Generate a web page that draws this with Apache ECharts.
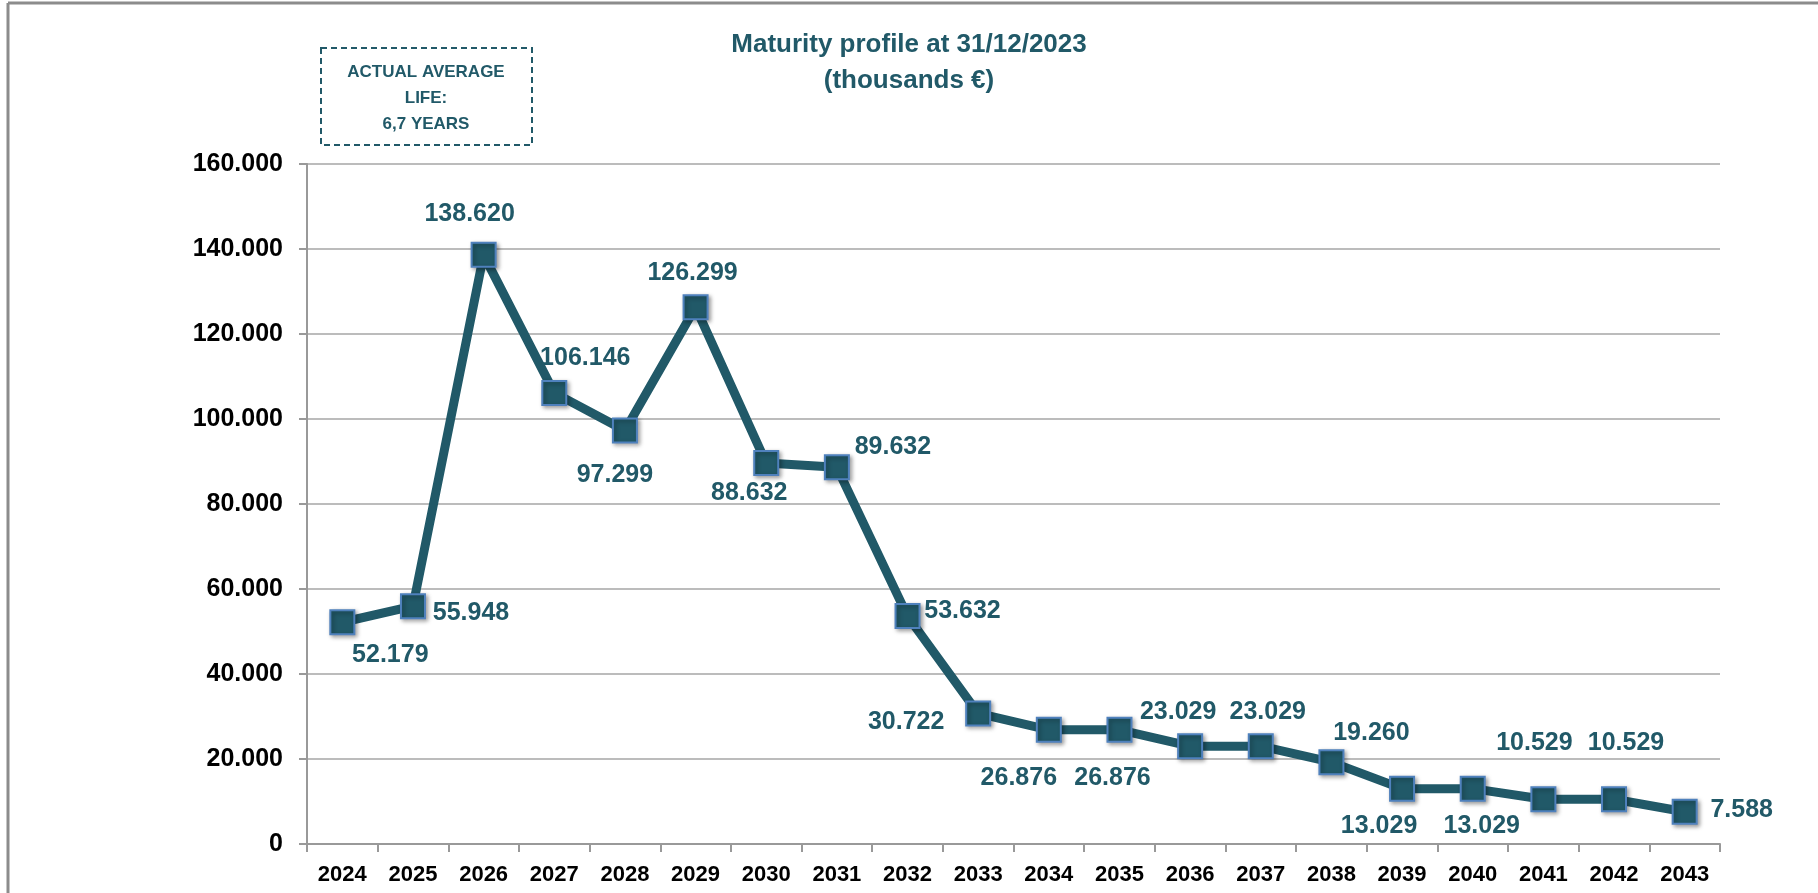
<!DOCTYPE html>
<html>
<head>
<meta charset="utf-8">
<script src="https://cdn.jsdelivr.net/npm/echarts@6/dist/echarts.min.js"></script>
<style>
html,body{margin:0;padding:0;background:#fff;}
#main{width:1818px;height:893px;}
</style>
</head>
<body>
<div id="main"></div>
<script>
// ---- data ----
const years = ['2024','2025','2026','2027','2028','2029','2030','2031','2032','2033','2034','2035','2036','2037','2038','2039','2040','2041','2042','2043'];
const maturities = [52179, 55948, 138620, 106146, 97299, 126299, 89632, 88632, 53632, 30722, 26876, 26876, 23029, 23029, 19260, 13029, 13029, 10529, 10529, 7588];
const labelTexts = ['52.179','55.948','138.620','106.146','97.299','126.299','88.632','89.632','53.632','30.722','26.876','26.876','23.029','23.029','19.260','13.029','13.029','10.529','10.529','7.588'];
const yTicks = [0, 20000, 40000, 60000, 80000, 100000, 120000, 140000, 160000];
const titleText = 'Maturity profile at 31/12/2023\n(thousands €)';
const boxLines = ['ACTUAL AVERAGE', 'LIFE:', '6,7 YEARS'];

// ---- layout (label placement offsets, px) ----
const labelOffsets = [[48,33],[58,7],[-14,-41],[31,-35],[-10,45],[-3,-34],[-17,30],[56,-20],[55,-5],[-72,9],[-30,48],[-7,48],[-12,-34],[7,-34],[40,-29],[-23,37],[9,37],[-9,-56],[12,-56],[57,-2]];

const teal = '#215968';
const font = "'Liberation Sans', Arial, sans-serif";

const chart = echarts.init(document.getElementById('main'), null, {renderer:'canvas'});

const seriesData = maturities.map((v, i) => ({
  value: v,
  label: { offset: labelOffsets[i], formatter: labelTexts[i] }
}));

chart.setOption({
  animation: false,
  backgroundColor: '#fff',
  title: {
    text: titleText,
    left: 'center',
    top: 22,
    textStyle: { color: teal, fontFamily: font, fontWeight: 'bold', fontSize: 26, lineHeight: 36 }
  },
  grid: { left: 307, right: 98, top: 164, bottom: 49, containLabel: false },
  xAxis: {
    type: 'category',
    data: years,
    boundaryGap: true,
    axisLine: { lineStyle: { color: '#999', width: 2 } },
    axisTick: { show: true, length: 8, lineStyle: { color: '#999', width: 2 } },
    axisLabel: { color: '#000', fontFamily: font, fontWeight: 'bold', fontSize: 22, margin: 20 }
  },
  yAxis: {
    type: 'value',
    min: yTicks[0],
    max: yTicks[yTicks.length - 1],
    interval: yTicks[1] - yTicks[0],
    axisLine: { show: true, lineStyle: { color: '#999', width: 2 } },
    axisTick: { show: true, length: 8, lineStyle: { color: '#999', width: 2 } },
    splitLine: { show: true, lineStyle: { color: '#a6a6a6', width: 1.5 } },
    axisLabel: {
      color: '#000', fontFamily: font, fontWeight: 'bold', fontSize: 25, margin: 24,
      formatter: v => v === 0 ? '0' : (v / 1000) + '.000'
    }
  },
  series: [{
    type: 'line',
    data: seriesData,
    symbol: 'rect',
    symbolSize: 24,
    lineStyle: { color: teal, width: 9 },
    itemStyle: { color: teal, borderColor: '#4f81bd', borderWidth: 2, shadowColor: 'rgba(0,0,0,0.35)', shadowBlur: 4, shadowOffsetX: 2, shadowOffsetY: 2 },
    label: {
      show: true,
      position: 'inside',
      align: 'center',
      verticalAlign: 'middle',
      color: teal,
      fontFamily: font,
      fontWeight: 'bold',
      fontSize: 25
    },
    emphasis: { disabled: true },
    z: 3
  }],
  graphic: [
    { type: 'line', shape: { x1: 8, y1: 3, x2: 1818, y2: 3 }, style: { stroke: '#8c8c8c', lineWidth: 3 } },
    { type: 'line', shape: { x1: 8, y1: 3, x2: 8, y2: 893 }, style: { stroke: '#8c8c8c', lineWidth: 3 } },
    { type: 'rect', shape: { x: 321, y: 48, width: 211, height: 97 }, style: { fill: 'none', stroke: teal, lineWidth: 2, lineDash: [6, 4] } },
    { type: 'text', x: 426, y: 59, style: { text: boxLines.join('\n'), align: 'center', verticalAlign: 'top', fill: teal, font: 'bold 17px ' + font, lineHeight: 26 } }
  ]
});
</script>
</body>
</html>
